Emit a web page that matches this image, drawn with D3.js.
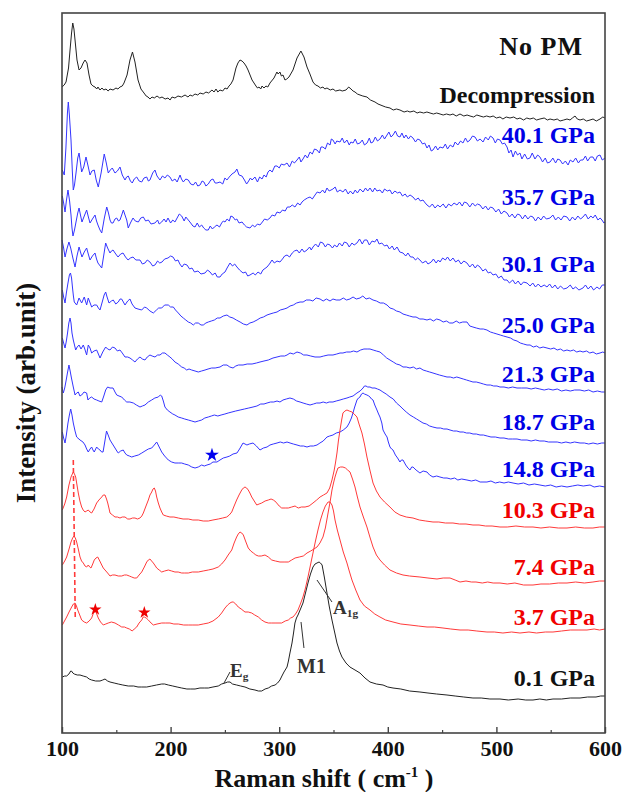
<!DOCTYPE html>
<html>
<head>
<meta charset="utf-8">
<script src="https://cdn.jsdelivr.net/npm/d3@7"></script>
<style>
  body { margin: 0; background: #fff; }
  svg text { font-family: "Liberation Serif", "Times New Roman", serif; font-weight: bold; }
</style>
</head>
<body>
<svg id="chart" width="622" height="792"></svg>
<script>
// Stacked Raman spectra of the sample under compression (offsets already included).
// Each spectrum: [Raman shift (cm-1), intensity (arb. units)]
const xTicks = [100, 200, 300, 400, 500, 600];
const xMinorTicks = [150, 250, 350, 450, 550];

const specNoPM = [[100,646],[102,648],[103.7,651],[106,665],[107.4,683],[108.8,700],[109.9,710],[111,704],[112,693],[113.8,673],[115.7,663],[117.5,665],[119.5,670],[121.2,673],[123,670],[124.9,658],[126.7,649],[128.5,647],[130.4,646],[132,644],[133.1,646],[135,643],[136.8,645],[138.5,643],[140.5,644],[142.5,642],[144.2,644],[147,643],[149.7,645],[151.5,644],[153.4,646],[155.5,647],[157.1,650],[159.9,658],[162.6,673],[164.9,681],[167.2,671],[170,653],[172.7,644],[175.5,640],[177.5,637],[179.2,636],[181,634],[182.9,636],[185,635],[187.5,637],[190,635],[192.1,636],[195,634],[197.6,635],[199.5,633],[201.3,636],[204,635],[206.8,637],[210,636],[213.3,638],[216,636],[217.9,638],[220,637],[222.5,639],[225,638],[227.1,640],[230,639],[232.6,641],[235,640],[238.1,643],[240,641],[241.8,644],[243.5,641],[245.5,643],[248,642],[250.1,645],[252,644],[253.8,647],[255.5,649],[257.5,653],[260.2,665],[262,670],[263.9,673],[265.8,672],[267.6,670],[269.5,667],[271.3,663],[275,653],[278.6,647],[280,645],[281.4,646],[283,644],[284.2,647],[286,645],[287.8,647],[289.5,646],[291.5,650],[295.2,655],[297.9,661],[299,659],[300.7,661],[302,657],[303.5,658],[305.3,653],[307,654],[309,656],[312.7,663],[316.4,675],[320,682],[322.8,676],[325.6,666],[328.3,659],[331.1,651],[333.5,648],[335.7,647],[338,645],[340.3,646],[342,644],[344,645],[347,643],[349.5,644],[352,642],[355.9,643],[358,642],[361.5,643],[364,646],[366.1,644],[368,642],[369.8,641],[372,639],[374.4,638],[377,637],[380.8,636],[384,633],[388.2,631],[391,629],[395.6,627],[398,626],[402,625],[405,623],[408,624],[411.2,623],[415,621],[418,622],[420.4,621],[424,622],[427,620],[429.6,621],[433,620],[436,621],[438.9,620],[442,619],[445,620],[448.1,619],[451,618],[454,619],[457.3,618],[460,619],[463,617],[466.5,619],[470,617],[473,618],[475.7,617],[479,616],[482,618],[484.9,617],[488,616],[491,617],[494.1,616],[497,617],[500,615],[503.3,616],[506,614],[509,616],[512.5,615],[516,616],[519,614],[521.7,615],[525,613],[528,615],[530.9,614],[534,615],[537,613],[540.1,614],[544,615],[547,613],[549.4,614],[553,613],[556,614],[558.6,612],[562,613],[565,614],[567.8,613],[570,615],[572.4,617],[574.5,614],[577,613],[580,614],[583,612],[586.2,613],[589,614],[592,612],[595.4,614],[598,616],[600,615]];

const spec401 = [[100.3,563],[102.1,558],[103.6,585],[105,620],[105.8,631],[106.8,618],[108.3,593],[109.5,562],[110.4,543],[111.5,548],[112.9,560],[114.5,575],[115.7,580],[117,570],[118.1,561],[120,566],[122.1,576],[124,567],[125.8,558],[127.5,562],[129.7,563],[131.5,553],[133.4,546],[136,560],[138.9,579],[140.8,570],[142.6,560],[144.5,563],[146.3,565],[148.8,560],[151,562],[153.4,566],[155.5,558],[158,553],[159.5,556],[161,557],[163,552],[164.7,550],[166.5,554],[168.8,556],[171,552],[173.4,551],[175.5,555],[178,556],[179.5,552],[181,553],[183.5,560],[185.6,563],[187.5,557],[190.2,553],[192.5,557],[194.8,555],[197,558],[199.4,556],[201.5,552],[204,554],[206,551],[208.7,558],[210,554],[211.7,551],[214,554],[216.3,553],[218.5,549],[220.9,548],[223,551],[225,547],[227.1,548],[229,552],[230.7,551],[232.5,547],[234.7,549],[237,553],[239,554],[241,550],[242.7,550],[245.5,551],[248,549],[250,555],[251.9,553],[254,556],[256.5,559],[259.3,561],[261,564],[263,558],[265.7,557],[268,553],[270,549],[271.3,551],[273.5,555],[275,553],[277.7,556],[280,551],[282,556],[284.2,554],[286,558],[288,556],[289.7,561],[291.5,563],[293.5,561],[296,567],[298,567],[300,565],[302,569],[304.5,568],[307.2,570],[309.5,566],[312,572],[314,570],[316.4,573],[318.5,576],[320,571],[321.9,574],[324,578],[326,575],[328.4,581],[330.5,579],[332.5,584],[334.8,583],[337,580],[338.5,586],[340.3,586],[342.5,584],[344.5,590],[346.8,588],[348,594],[349.5,593],[351.5,589],[353,592],[356,591],[358,595],[360,590],[362.4,593],[364.5,588],[366,591],[368,590],[370,594],[372,589],[374.4,590],[376.5,593],[378.5,588],[380.9,590],[383,595],[384.5,590],[386.4,591],[388.5,596],[390.5,592],[392.8,594],[395,598],[397,594],[399.3,598],[401,601],[403,596],[404.8,598],[407,602],[409,597],[411.2,596],[413,600],[415,595],[416.7,598],[419,594],[421,597],[423.2,595],[425.5,591],[427.5,594],[429.6,593],[432,589],[434,590],[436.1,585],[438,588],[440,582],[441.6,583],[444,587],[446,583],[448,586],[450.8,585],[453,589],[455,584],[457.5,588],[460,586],[462,591],[464.5,588],[467,592],[469.2,590],[471.5,595],[473.5,591],[475.7,593],[478,597],[480.3,596],[482.5,592],[485,594],[487.7,591],[490,596],[492.5,593],[494.5,597],[496.9,595],[499,590],[501,594],[503.3,593],[505.5,589],[507.5,590],[509.8,586],[511.5,580],[513.5,583],[515.3,576],[517.5,582],[519.5,578],[521.7,580],[523.5,574],[526,579],[528.5,574],[530.9,575],[533,580],[535.5,574],[538,578],[540.1,576],[542.5,571],[545,575],[547,570],[549.4,571],[552,575],[554.5,570],[556.5,574],[558.6,573],[561,569],[563.5,572],[566,568],[568,573],[570.5,571],[573,575],[575.5,570],[577.5,573],[579.7,573],[582,577],[584,572],[586.5,576],[588.9,576],[591,572],[593,577],[595.4,578],[597.5,573],[600,575]];

const spec357 = [[100.3,537],[101.5,530],[102.8,521],[104,532],[105.5,543],[107,532],[108.3,518],[109.2,505],[110.1,497],[111.5,503],[112.9,511],[114.5,520],[115.7,525],[117,518],[118.4,511],[120.5,517],[122.7,523],[124.3,516],[125.8,510],[128,514],[130.4,518],[131.8,512],[133.1,508],[135,503],[136.6,500],[139,515],[141.2,526],[142.8,520],[144.2,513],[145.5,510],[147,510],[148.8,514],[150.4,515],[152,512],[153.4,513],[155,518],[156.5,523],[158,518],[159.6,513],[161,505],[163,510],[165.4,515],[167.5,512],[170.3,511],[172.5,515],[174.9,516],[177,512],[179.5,513],[182,509],[185.6,510],[188,513],[189.5,509],[191.8,511],[194,514],[195.8,511],[197.6,515],[200,510],[202,513],[204,511],[206,515],[208,519],[210.2,517],[212.5,512],[214,516],[216.3,513],[218.5,510],[220.5,507],[222.5,506],[224.5,510],[226.5,506],[228.6,508],[230.5,505],[232.5,503],[234.7,503],[236.5,507],[238.5,504],[240.3,506],[242.7,508],[245,506],[247,510],[248.5,512],[250.1,511],[252,514],[254,512],[255.5,517],[257.5,516],[259.5,513],[261,514],[263,510],[265.8,511],[268,508],[270,506],[273.1,505],[275.5,508],[277.5,506],[280,509],[282.3,508],[284.5,511],[286.5,514],[289,513],[291.5,515],[293.5,518],[296,517],[298,521],[300.7,520],[303,523],[305.5,522],[307.5,526],[309.9,526],[312,528],[314.5,526],[317,530],[319.2,528],[321,531],[323,533],[326,535],[328.4,536],[330.5,534],[333,538],[335,541],[337.6,540],[340,543],[342,540],[344,545],[346,542],[349.5,544],[351.5,546],[353.5,541],[356,543],[358.7,541],[361,544],[363.5,539],[365.5,542],[367.9,539],[370,543],[372,540],[374.5,544],[377.2,541],[379.5,545],[381.5,542],[383.6,545],[386,541],[388,545],[390,542],[392.8,543],[395,540],[397,544],[399.5,542],[402,543],[404,539],[406.5,542],[409,540],[411.2,541],[413.5,537],[416,539],[418,536],[420.5,538],[423.2,536],[425.5,533],[428,535],[430,532],[432.4,533],[434.5,530],[436.1,528],[438.5,526],[441,529],[443.5,525],[446,528],[448.1,526],[451,529],[453.5,525],[456,529],[458.5,527],[461,530],[463.7,528],[466,531],[468.5,527],[470.5,531],[472.9,530],[475.5,526],[478,530],[480.5,527],[482.5,529],[484.9,528],[487.5,524],[490,527],[492.5,523],[494.5,526],[496.9,525],[499.5,521],[502,524],[504.5,519],[507,522],[509.8,520],[512,516],[514.5,519],[517,515],[519.5,519],[521.7,518],[524,514],[526.5,518],[529,514],[531.5,517],[533.7,516],[536,512],[538.5,516],[541,513],[543.5,517],[546,514],[549.4,515],[552,518],[554.5,513],[557,516],[559.5,513],[562,517],[565,516],[567.5,512],[570,516],[572.5,513],[575,517],[577.5,514],[579.7,516],[582,519],[584.5,514],[587,517],[588.9,515],[591,518],[593.5,513],[595.5,515],[597.2,513],[599,510],[600,511]];

const spec301 = [[100,493],[101.5,485],[102.8,476],[104.5,484],[106.4,491],[108,485],[110,475],[112,466],[113.8,477],[115.7,486],[117,481],[118.4,476],[120.5,481],[122.7,485],[124.2,479],[125.8,473],[128,477],[130.4,480],[131.8,474],[133.1,470],[136.6,465],[138.5,478],[140.2,490],[142,485],[144.2,480],[145.5,482],[147,483],[149.5,479],[151.6,476],[154,479],[156.2,480],[158.5,476],[160.8,473],[163,475],[165.4,476],[168,473],[171.8,473],[174,469],[176.4,470],[178.5,473],[181,471],[183.5,467],[185.6,468],[188,472],[190,470],[192.1,471],[194.5,474],[197.6,475],[200,477],[202.2,476],[204.5,472],[206.8,473],[208.5,469],[210.5,466],[212.5,469],[215.1,468],[217.5,464],[219.7,465],[222,461],[225.2,462],[228,459],[231.7,460],[234,463],[236.3,461],[238.5,458],[241,460],[243,456],[245.5,456],[247.5,459],[250.1,461],[252,465],[254.7,470],[257,467],[259,469],[261.1,466],[263.5,463],[266.7,460],[269,461],[271,457],[273.1,458],[276,460],[278,458],[280.5,461],[283,459],[285,463],[288.8,466],[291,469],[293.4,473],[295.5,470],[298,472],[300.7,471],[303,474],[305,477],[307.2,478],[309.5,476],[312,480],[314,482],[316.4,483],[318.5,480],[321,484],[323,481],[325.6,483],[328,486],[329.5,483],[331.1,486],[333.5,489],[336,486],[338,491],[340.3,490],[342.5,486],[344.5,489],[346.8,488],[349,485],[351,488],[353.2,486],[355.5,490],[358,487],[360,491],[362.4,490],[364.5,486],[367,490],[369,488],[371.6,490],[374,494],[376.5,489],[378.5,493],[380.8,493],[383,488],[385.5,492],[388,491],[390,494],[392,489],[394.5,490],[397,487],[399.3,488],[401.5,484],[404,487],[406,483],[408.5,486],[411,481],[414,480],[416.5,477],[418.5,480],[421,476],[423.2,476],[425.5,473],[427.5,475],[429.6,473],[432,470],[435,472],[437,469],[440,471],[442,474],[444.5,470],[446.5,473],[448.1,471],[450.5,475],[453,473],[455,476],[457.5,472],[460,475],[462.5,471],[465,473],[467.5,469],[470,472],[472.9,470],[475.5,466],[478,469],[480.5,465],[482.5,468],[484.9,466],[487.5,462],[490,464],[492.5,460],[494.5,461],[496.9,458],[499.5,459],[502,455],[504.5,457],[507,453],[509.8,453],[512,450],[515,453],[517.5,449],[520,452],[522.5,448],[525,451],[528.2,450],[531,447],[533.5,450],[536,446],[538.5,449],[541,446],[544,448],[546.6,446],[549,449],[551.5,445],[554,448],[556.5,444],[559,447],[562,444],[565,445],[568,448],[570.5,444],[573,446],[576,443],[579.7,445],[582,448],[584.5,444],[587,447],[589.5,443],[592.6,446],[595,444],[597.5,448],[600,448]];

const spec250 = [[100.3,443],[101.5,436],[102.8,430],[104,440],[105.5,450],[106.8,458],[107.8,460],[108.8,455],[109.7,445],[110.5,437],[111.3,431],[113.5,428],[115.7,435],[118.1,430],[120.5,436],[122.7,428],[124.2,435],[127.3,426],[129.5,428],[131.9,428],[133.5,425],[135,423],[137.3,432],[138.8,438],[140.2,441],[141.5,436],[143.3,430],[145.5,432],[147.2,433],[149.5,429],[151.8,431],[153.5,434],[154.9,434],[156.5,431],[158,428],[160.5,432],[162.6,434],[164.5,429],[167.2,425],[170,424],[173.4,423],[176,426],[178,425],[181,422],[184.1,420],[187,423],[189,425],[191.8,425],[194.5,428],[197.9,428],[200,426],[202.5,426],[204.5,423],[207.1,420],[209.5,417],[211.7,415],[214,413],[216.3,411],[218.5,410],[220.9,408],[223,410],[225.5,410],[228,408],[230.1,408],[232.5,410],[234.7,411],[237.5,412],[240.3,413],[243,415],[245.5,415],[248.5,417],[251.9,418],[254.5,416],[257.5,415],[260.5,413],[264,411],[267,409],[270.3,408],[273,410],[276,411],[279.6,413],[282.5,415],[285.5,416],[288.8,418],[291.5,419],[294.5,420],[298,421],[301,423],[304.5,424],[307.2,425],[310,427],[313,428],[316,430],[319.2,431],[322,431],[325,433],[328.4,433],[331,432],[334,435],[337.6,434],[340.5,432],[343.5,434],[346.8,432],[349.5,434],[352.5,433],[356,433],[359,435],[362,433],[365.1,434],[368,436],[371,434],[374.4,435],[377,437],[380,434],[383,435],[386.4,433],[389.5,432],[393,430],[396,430],[399.3,428],[402,425],[405,424],[408,422],[411.2,421],[414,419],[417,418],[420,417],[423.2,416],[426,416],[429.5,414],[432.5,414],[436.1,413],[439,414],[442,412],[445,414],[448.1,413],[451,411],[454,412],[457,410],[460,410],[463,412],[466,410],[469,411],[472.9,411],[475.5,407],[478.4,406],[481.5,405],[485,404],[488,404],[491.3,403],[494.5,401],[497.5,400],[500.5,399],[503.5,398],[506.5,397],[509.8,396],[513,395],[516,393],[519,392],[522,390],[525,389],[528.2,388],[531,388],[534,386],[537,387],[540,385],[543,386],[546.6,385],[550,384],[553,385],[556,383],[559,384],[562,382],[565,383],[568,382],[571,383],[574,381],[577,382],[579.7,381],[583,382],[586,380],[589,381],[592,379],[595.4,380],[598,381],[600,380]];

const spec213 = [[100.3,395],[101.5,390],[102.8,385],[104,392],[105.1,400],[106.3,410],[107.4,415],[108.3,410],[109.2,400],[110.4,393],[111.5,388],[112.6,383],[114,386],[115.7,388],[117.5,384],[119.6,388],[121,384],[122.7,378],[124.2,388],[125.8,385],[127.3,380],[129.5,382],[131.9,383],[133.5,379],[135,375],[137.5,381],[140.2,386],[142,384],[144.2,383],[146.5,386],[148.8,385],[151,382],[153.4,383],[155.5,380],[158,376],[160.5,376],[162.6,375],[165,373],[167.2,371],[169.5,374],[171.8,376],[174,374],[176.4,373],[178.5,376],[181,378],[183,377],[185.6,376],[188,378],[190.2,378],[192.5,380],[194.8,380],[197,378],[199.4,376],[201.5,374],[204,371],[207,369],[210.2,366],[212.5,365],[214.8,363],[217,364],[219.4,363],[222.5,362],[225.5,361],[228.5,362],[231.7,363],[234.5,364],[237.8,365],[241,365],[245.5,366],[248.5,368],[251.9,368],[254.5,366],[257.5,365],[260,367],[262.5,368],[266.7,368],[270.5,369],[275,369],[279,370],[282.3,371],[286,372],[290,373],[294.3,375],[298,376],[301.5,377],[305,377],[307.2,378],[310,380],[313,379],[316.4,381],[319.5,380],[322.5,378],[325.6,378],[329,377],[333,376],[337.6,376],[341,377],[345,378],[349.5,378],[353,379],[356,380],[358.7,380],[362,381],[365.5,381],[368.5,382],[371.6,381],[375,383],[378,384],[381,384],[383.6,384],[386.5,383],[389.5,382],[392.8,381],[396,378],[399,375],[402,373],[405,371],[408,369],[411.2,368],[414,366],[417,366],[420.4,365],[423.5,366],[426.5,364],[429.6,365],[432.5,363],[435.5,362],[438.5,361],[441.6,360],[444.5,359],[447.5,358],[451,357],[454.5,356],[457.5,356],[460.5,355],[463.5,356],[466.5,355],[469.5,354],[472.5,353],[475.5,352],[478.4,351],[481.5,351],[485,350],[488,349],[491.3,348],[494.5,348],[497.5,347],[500.5,347],[503.3,346],[507,346],[511,345],[515,346],[519,345],[523,345],[528.2,345],[532,344],[536,345],[540,344],[544,343],[548,344],[552.1,343],[556,344],[560,342],[564,343],[568,342],[572,343],[577,343],[581,342],[585,343],[589,341],[593,342],[597,341],[600,341]];

const spec187 = [[100,346],[101.2,340],[102.5,345],[103.7,352],[105,360],[106.4,368],[107.5,362],[108.7,355],[110.4,346],[112,338],[113.5,340],[115,341],[116.5,337],[118.1,338],[120.3,341],[122.7,340],[123.9,333],[125.5,335],[127.3,336],[129.5,334],[131.9,333],[134,332],[136.6,331],[138.5,337],[140.2,343],[142,346],[144.2,345],[147,345],[148.8,341],[150.4,338],[152.5,337],[155,336],[157.5,333],[159.6,331],[162.5,331],[165.7,330],[168.5,328],[171.8,326],[174,327],[176.4,328],[179.5,331],[182.6,333],[185.5,335],[188.7,336],[190.5,338],[191.8,337],[193.3,332],[194.8,326],[197,323],[199.4,321],[202,319],[204,318],[207,316],[210.2,315],[213,314],[216.3,313],[219.5,312],[222.5,311],[225.5,312],[228.6,313],[231.5,315],[234.7,316],[237.5,317],[240.3,318],[243.5,317],[246.5,318],[250,319],[253,320],[256.5,321],[260,322],[264,323],[268,324],[272,325],[275.9,326],[279.5,327],[283,329],[286,329],[288.8,330],[292,331],[295,331],[298,332],[300.7,331],[303.5,333],[306.5,334],[309.9,335],[313,334],[316,332],[319.2,331],[322,330],[325,329],[328.4,328],[331.5,329],[334.5,330],[337.6,330],[340.5,331],[343.5,330],[346,331],[349.5,331],[352.5,332],[356,333],[359,334],[362.4,335],[365,336],[368,337],[371.6,340],[374.5,342],[377.2,345],[378.5,347],[379.9,347],[381.5,346],[383.6,346],[385.5,345],[388.2,345],[390.5,344],[392.8,343],[395.5,341],[398.5,339],[402,336],[405,334],[408,330],[411.2,327],[414,324],[417,321],[420.4,318],[423.5,316],[426.5,314],[429.5,312],[432.4,310],[435.5,309],[438.5,307],[441.5,306],[445.3,305],[448.5,305],[451.5,304],[454.5,304],[457.3,303],[460.5,302],[463.5,302],[466.5,301],[469.5,301],[472.5,300],[475.5,300],[478.5,299],[481.5,299],[484.9,298],[488,298],[491.5,297],[495,296],[499,296],[503.3,295],[507,295],[511,294],[515,294],[519,294],[523,293],[528.2,293],[532,292],[536,293],[540,292],[544,292],[548,291],[552.1,291],[556,291],[560,290],[564,291],[568,290],[572,291],[577,290],[581,290],[585,289],[589,290],[593,289],[597,290],[600,290]];

const spec148 = [[100.3,301],[101.5,295],[102.8,290],[104,298],[105.5,310],[106.8,318],[108,324],[109.2,318],[110.4,310],[112,302],[113.5,296],[116.6,293],[119.3,291],[121.2,288],[122.7,284],[124.2,281],[125.8,284],[127.3,286],[128.5,283],[129.7,281],[131.9,286],[133.5,284],[135,283],[136.5,281],[137.8,281],[139.5,292],[141,302],[142.5,298],[144.2,293],[146.5,289],[148.8,285],[150.5,282],[151.8,280],[154,282],[156.4,283],[158,280],[159.6,278],[162,277],[164.2,276],[167,277],[170.3,278],[173.5,280],[176.4,282],[179.5,284],[182.6,285],[185,288],[187.2,291],[189.5,286],[191.8,281],[194.5,277],[197.9,273],[201,271],[204,270],[207,270],[210.2,270],[213,269],[216.3,268],[219.5,266],[222.5,265],[225.5,266],[228.6,268],[231,267],[233.5,268],[236.5,269],[239,271],[242.7,271],[245.5,273],[248.5,275],[251.9,276],[254.5,277],[257.5,279],[261.1,280],[263.5,284],[266.7,290],[268.5,289],[270.3,288],[272.5,289],[275.9,290],[279,287],[282.3,283],[285.5,285],[288.8,286],[291.5,288],[294.5,289],[298,290],[301,291],[304,290],[307.2,291],[310,290],[313,289],[316.4,288],[319.5,287],[322.5,287],[325.6,286],[328.5,287],[331.5,287],[334.8,288],[337.5,290],[340.5,292],[344,296],[346.5,297],[349.5,298],[352.5,300],[356,301],[359,303],[362.4,306],[364.5,310],[366.5,315],[367.9,320],[369.5,326],[371.6,333],[373,335],[374.4,336],[375.8,339],[377.2,340],[378.5,339],[380.8,338],[382.5,337],[383.6,336],[385,334],[386.4,333],[388,328],[390,323],[391.5,319],[392.8,316],[394.5,310],[395.6,303],[397.5,299],[399.3,296],[400.5,291],[402,286],[403.5,284],[404.8,283],[407,278],[409,275],[411.2,271],[412.5,273],[414,273],[416.5,268],[418.5,265],[420.4,263],[422,266],[423.2,266],[426,263],[429.6,260],[432.5,262],[436.1,261],[438.5,258],[441.6,256],[445,257],[448,256],[451.5,255],[454.5,255],[458,254],[461.5,255],[464.5,253],[468,254],[472.9,253],[477,252],[481,253],[485,251],[491.3,251],[495,252],[499,250],[503,251],[507,250],[511,251],[515.3,250],[520,249],[525,250],[530,248],[535,249],[540.1,248],[545,247],[550,248],[555,246],[560,247],[565,246],[570,247],[575,248],[580,247],[586.2,248],[590,246],[595,247],[600,246]];

const spec103 = [[100.3,223],[102.5,229],[104.3,236],[106.4,248],[108.3,256],[109.5,259],[110.4,261],[111.5,259],[112.6,256],[113.8,248],[115,240],[116.5,232],[118.1,226],[119.5,223],[121.2,221],[122.7,222],[124.2,223],[125.8,221],[127.3,220],[129.5,224],[131.9,230],[134,233],[136.6,236],[138,238],[139.6,238],[141,234],[142.1,230],[143.2,225],[144.2,220],[146.5,218],[148.8,216],[151,216],[153.4,215],[155.5,216],[158,216],[160.5,214],[162.6,214],[165,215],[167.2,215],[169.5,214],[171.8,215],[173.5,217],[174.9,220],[177,226],[179.5,233],[181,238],[182.6,241],[183.8,244],[185,245],[186.1,242],[187.2,236],[188.7,230],[190.2,225],[191.8,221],[193.3,218],[196,217],[199.4,216],[203,216],[207.1,215],[211.5,214],[216.3,214],[220.5,213],[225.5,213],[230,212],[234.7,212],[239,213],[243.9,214],[248,215],[251.7,216],[254,218],[256.3,221],[258.5,227],[260.8,233],[263,238],[265.5,243],[267,245],[268.5,246],[270,245],[271.5,243],[273,240],[274.7,236],[277,232],[279.3,228],[281.5,229],[283.9,230],[287,232],[290,233],[292.5,234],[294.6,233],[296,232],[297.7,230],[300,227],[302.3,225],[305.5,225],[308.4,225],[311.5,226],[314.6,227],[316,226],[317.6,225],[320.5,226],[323.8,226],[327.5,227],[331.1,230],[334.5,233],[337.6,236],[340.8,238],[344,240],[346.5,245],[348.6,253],[350.5,262],[351.8,270],[353.2,280],[354.5,292],[356,303],[357.5,313],[358.7,320],[360.5,322],[362.4,323],[364.5,322],[367,321],[369,319],[371.6,316],[373.5,309],[376.2,300],[378.5,289],[380.8,276],[383.5,263],[386.4,250],[389.5,242],[392.8,236],[397,231],[402,226],[406.5,221],[411.2,218],[417,216],[423.2,215],[429,213],[435,212],[441.6,211],[447,211],[453,210],[460,210],[466,209],[472,209],[478.4,208],[484,208],[490,207],[496,207],[503.3,206],[510,206],[518,207],[526,206],[533.7,206],[541,205],[549,206],[557,205],[565,205],[573,206],[581,205],[588.9,205],[595,206],[600,206]];

const spec74 = [[100.3,168],[102.5,172],[104.3,176],[106.5,184],[108.3,191],[109.8,195],[111,197],[112.3,195],[113.5,191],[115,184],[116.6,176],[118,172],[119.6,170],[121.2,167],[122.7,166],[124.2,168],[125.5,166],[126.7,165],[128.3,169],[129.7,173],[131.3,175],[132.9,176],[134.8,172],[136.6,168],[138,165],[139.6,163],[142,160],[144.2,157],[146.5,158],[148.8,158],[151.8,157],[155,157],[157.5,158],[159.6,158],[162,157],[164.2,156],[166.5,155],[168.8,155],[171,158],[173.4,161],[175.8,166],[178,171],[179.5,173],[181,174],[182.5,172],[184.1,170],[186,167],[187.2,165],[189.5,163],[191.8,161],[194.5,162],[197.9,163],[201,162],[204,161],[207,161],[210.2,160],[213,160],[216.3,160],[220,161],[225.5,161],[230,162],[234.7,163],[239,164],[243.9,166],[247,169],[250.1,173],[253,178],[256.3,183],[258.5,190],[260.8,196],[262.3,199],[263.9,201],[265.5,200],[267,198],[269,192],[271.5,185],[273.8,182],[276.2,180],[278.5,178],[280.8,177],[283.5,177],[286.9,178],[290,176],[293.1,173],[296.5,172],[300.7,171],[304.5,171],[308.4,171],[311.5,173],[314.6,175],[318.5,176],[322.2,177],[325.6,180],[329,182],[332,184],[334.8,186],[337.5,190],[340.3,196],[342.5,205],[345,220],[347,232],[348.6,243],[350,250],[351.4,256],[352.8,261],[354.1,265],[356.5,266],[358.7,266],[361,265],[363,263],[365.2,261],[367.5,254],[369.8,246],[372,236],[374.4,226],[377.5,216],[380.8,206],[383.5,196],[386.4,186],[389.5,178],[392.8,173],[397,168],[402,163],[408,160],[414,158],[420,157],[429.6,156],[437,155],[445.3,154],[451,155],[457.3,155],[462,153],[466.5,151],[472,152],[477,151],[481.2,151],[487,150],[492,151],[497,150],[503.3,150],[510,149],[517,150],[525,148],[533.7,148],[541,149],[549,149],[557,150],[565,150],[573,151],[581,150],[588.9,151],[595,152],[600,152]];

const spec37 = [[100.3,108],[102.3,112],[104.3,116],[106.5,121],[108.9,126],[110.5,129],[112,130],[113.3,127],[114.5,123],[116.3,118],[118.1,113],[120.5,111],[122.7,110],[125,112],[127.3,115],[129,120],[130.4,123],[132,119],[133.4,115],[135.5,111],[138,108],[140.3,109],[142.6,110],[145.5,111],[148.8,110],[152,108],[155,106],[157.5,106],[159.6,105],[162,104],[164.7,102],[166.5,104],[168.8,106],[171,110],[173.4,113],[174.8,116],[175.8,116],[177.5,115],[179.5,113],[182,110],[184.1,108],[187.5,109],[191.8,110],[195.5,110],[199.4,110],[203,109],[207.1,109],[212,108],[216.3,108],[220.5,108],[225.5,108],[230,109],[234.7,110],[239,112],[243.9,116],[247,120],[250.1,125],[252.5,128],[254.7,130],[256.5,131],[257.7,131],[260,129],[262.3,126],[265,124],[268.5,121],[271.5,121],[274.7,120],[277.5,118],[280.8,116],[283.9,113],[286.9,111],[290,110],[293.1,110],[297,110],[302.3,110],[305.5,112],[308.4,113],[310.5,115],[312.7,116],[315,119],[317.3,123],[319.5,129],[321.9,136],[324.2,145],[326.5,156],[328.8,168],[331.1,180],[333.4,192],[335.7,203],[338,213],[340.3,221],[342.5,227],[345,231],[346.8,231],[348.6,228],[350,222],[351.4,213],[353.5,203],[356,193],[359,181],[362.4,170],[364.5,162],[367,153],[370.5,143],[374.4,133],[378.5,127],[383.6,123],[388,119],[392.8,116],[398,113],[404.8,111],[412,109],[420.4,108],[428,107],[436.1,106],[443,106],[450.8,105],[458,104],[466.5,103],[474,103],[482,102],[491.3,101],[498,101],[506,100],[514,101],[521.7,100],[530,101],[537,100],[545,101],[552.1,101],[560,102],[568,103],[576,103],[583.4,103],[590,104],[595,103],[600,104]];

const spec01 = [[100.3,56],[102.5,57],[104.3,57],[106.4,59],[108,62],[108.7,62],[110,60],[111.3,59],[114,58],[116.6,58],[119.5,57],[122.7,56],[125,54],[127.3,53],[131,52],[135,52],[137.5,53],[139.6,54],[142,52],[144.2,51],[148,50],[151.8,49],[156,48],[161,47],[166,47],[170,46],[173.4,46],[178,46],[182.6,47],[187,48],[191.8,49],[194.5,49],[197.9,48],[202,47],[206,46],[210.2,45],[215,44],[218.5,44],[222.5,44],[227,45],[231,45],[234.7,45],[239,46],[243.9,47],[247,49],[250.1,50],[252.5,51],[254.7,51],[257,49],[260.8,48],[264.5,47],[268.5,46],[273,44],[277.7,43],[280.8,42],[283.9,42],[287,44],[290,45],[293,47],[296.2,48],[298.5,50],[300.7,53],[302.5,57],[304.4,61],[307.2,66],[308.5,72],[309.9,80],[311.8,90],[313.2,100],[314.5,110],[315.9,115],[317.3,118],[319.6,124],[321.9,130],[324.2,140],[326.5,150],[328.8,159],[331.1,166],[333,169],[334.8,170],[336.7,171],[338,170],[339.5,168],[341.7,155],[344,140],[346.2,126],[348.6,113],[351,101],[353.2,90],[355.5,82],[357.8,76],[361.5,70],[365.1,66],[369.8,63],[374.4,60],[379,55],[383.6,51],[389.5,49],[395.6,48],[400,46],[404.8,45],[412,44],[420,42],[429.6,41],[437,40],[445,39],[454.5,38],[462,37],[470,36],[478.4,35],[486,35],[494,34],[503.3,34],[511,33],[520,34],[527,33],[533.7,33],[540,34],[546,33],[552.1,34],[560,34],[568,35],[577,35],[584,36],[591.7,36],[596,37],[600,37]];

const pressureLabels = ["40.1 GPa","35.7 GPa","30.1 GPa","25.0 GPa","21.3 GPa","18.7 GPa","14.8 GPa","10.3 GPa","7.4 GPa","3.7 GPa","0.1 GPa"];

// Mode markers: phase-related bands (stars) and the tracked low-frequency peak (dashed guide)
const blueStars = [[238.1, 278]];
const redStars = [[130.7, 123.5], [175.8, 120.5]];
const peakGuide = [[110.4, 273], [112.2, 115]];

const BLUE = "#3434ff", BLUE_TXT = "#0000e6";
const RED = "#ff3a3a", RED_TXT = "#f00000";
const BLACK = "#222";

const spectra = [
  { data: specNoPM, color: BLACK },
  { data: spec401, color: BLUE },
  { data: spec357, color: BLUE },
  { data: spec301, color: BLUE },
  { data: spec250, color: BLUE },
  { data: spec213, color: BLUE },
  { data: spec187, color: BLUE },
  { data: spec148, color: BLUE },
  { data: spec103, color: RED },
  { data: spec74, color: RED },
  { data: spec37, color: RED },
  { data: spec01, color: BLACK }
];

const margin = { left: 62, right: 17, top: 13, bottom: 59 };
const W = 622, H = 792;
const svg = d3.select("#chart");

const x = d3.scaleLinear().domain([100, 600]).range([margin.left, W - margin.right]);
const y = d3.scaleLinear().domain([0, 720]).range([H - margin.bottom, margin.top]);

const line = d3.line().x(d => x(d[0])).y(d => y(d[1]));

const plot = svg.append("g");

spectra.forEach(s => {
  plot.append("path")
    .attr("d", line(s.data))
    .attr("fill", "none")
    .attr("stroke", s.color)
    .attr("stroke-width", 1)
    .attr("stroke-linejoin", "round");
});

// dashed guide following the ~110 cm-1 peak
plot.append("path")
  .attr("d", line(peakGuide))
  .attr("fill", "none")
  .attr("stroke", RED)
  .attr("stroke-width", 1.6)
  .attr("stroke-dasharray", "5,3");

const star = d3.symbol().type(d3.symbolStar);
plot.selectAll(".bstar").data(blueStars).join("path")
  .attr("transform", d => `translate(${x(d[0])},${y(d[1])})`)
  .attr("d", star.size(60)())
  .attr("fill", "#0000ee");
plot.selectAll(".rstar").data(redStars).join("path")
  .attr("transform", d => `translate(${x(d[0])},${y(d[1])})`)
  .attr("d", star.size(48)())
  .attr("fill", "#ee0000");

// mode annotations
const annoColor = "#333";
const leaders = [
  [[249.2, 50], [254.7, 61]],
  [[320.1, 111], [322.8, 85]],
  [[334.8, 153], [348.6, 131]]
];
leaders.forEach(l => {
  plot.append("path").attr("d", line(l)).attr("stroke", annoColor).attr("stroke-width", 1).attr("fill", "none");
});

function modeLabel(v, h, main, sub, size) {
  const t = svg.append("text").attr("x", x(v)).attr("y", y(h)).attr("fill", annoColor).attr("font-size", size);
  t.append("tspan").text(main);
  if (sub) t.append("tspan").attr("font-size", size * 0.6).attr("dy", 3).text(sub);
}
modeLabel(254.7, 56, "E", "g", 19);
modeLabel(316.4, 60, "M1", null, 20);
modeLabel(349.5, 119, "A", "1g", 19);

// frame
svg.append("rect")
  .attr("x", x(100)).attr("y", y(720))
  .attr("width", x(600) - x(100)).attr("height", y(0) - y(720))
  .attr("fill", "none").attr("stroke", "#444").attr("stroke-width", 1.6);

// bottom axis, inward ticks
const axisG = svg.append("g").attr("transform", `translate(0,${y(0)})`)
  .call(d3.axisBottom(x).tickValues(xTicks).tickSizeInner(-6).tickSizeOuter(0).tickPadding(7).tickFormat(d3.format("d")));
axisG.select(".domain").remove();
axisG.selectAll("line").attr("stroke", "#444").attr("stroke-width", 1.4);
axisG.selectAll("text").attr("font-size", 22).attr("fill", "#111")
  .attr("font-family", "'Liberation Serif', 'Times New Roman', serif").attr("font-weight", "bold");

const minorG = svg.append("g").attr("transform", `translate(0,${y(0)})`)
  .call(d3.axisBottom(x).tickValues(xMinorTicks).tickSizeInner(-3).tickSizeOuter(0).tickFormat(""));
minorG.select(".domain").remove();
minorG.selectAll("line").attr("stroke", "#444").attr("stroke-width", 1.2);

// axis titles
const xt = svg.append("text").attr("x", 324).attr("y", 787).attr("text-anchor", "middle")
  .attr("font-size", 26).attr("fill", "#111");
xt.append("tspan").text("Raman shift ( cm");
xt.append("tspan").attr("font-size", 15).attr("dy", -10).text("-1");
xt.append("tspan").attr("dy", 10).text(" )");

svg.append("text")
  .attr("transform", `translate(35,${y(340)}) rotate(-90)`)
  .attr("text-anchor", "middle").attr("font-size", 27).attr("fill", "#111")
  .text("Intensity (arb.unit)");

// curve labels
const labelX = 595;
svg.append("text").attr("x", 583).attr("y", y(678)).attr("text-anchor", "end")
  .attr("font-size", 26).attr("fill", "#111").attr("letter-spacing", 1).text("No PM");
svg.append("text").attr("x", labelX).attr("y", y(630)).attr("text-anchor", "end")
  .attr("font-size", 24).attr("fill", "#111").text("Decompression");

const labelH = [590, 528, 461, 400, 351, 303, 256, 215, 158, 108, 47];
const labelColors = [BLUE_TXT, BLUE_TXT, BLUE_TXT, BLUE_TXT, BLUE_TXT, BLUE_TXT, BLUE_TXT, RED_TXT, RED_TXT, RED_TXT, "#111"];
pressureLabels.forEach((t, i) => {
  svg.append("text").attr("x", labelX).attr("y", y(labelH[i])).attr("text-anchor", "end")
    .attr("font-size", 24).attr("fill", labelColors[i]).text(t);
});
</script>
</body>
</html>
